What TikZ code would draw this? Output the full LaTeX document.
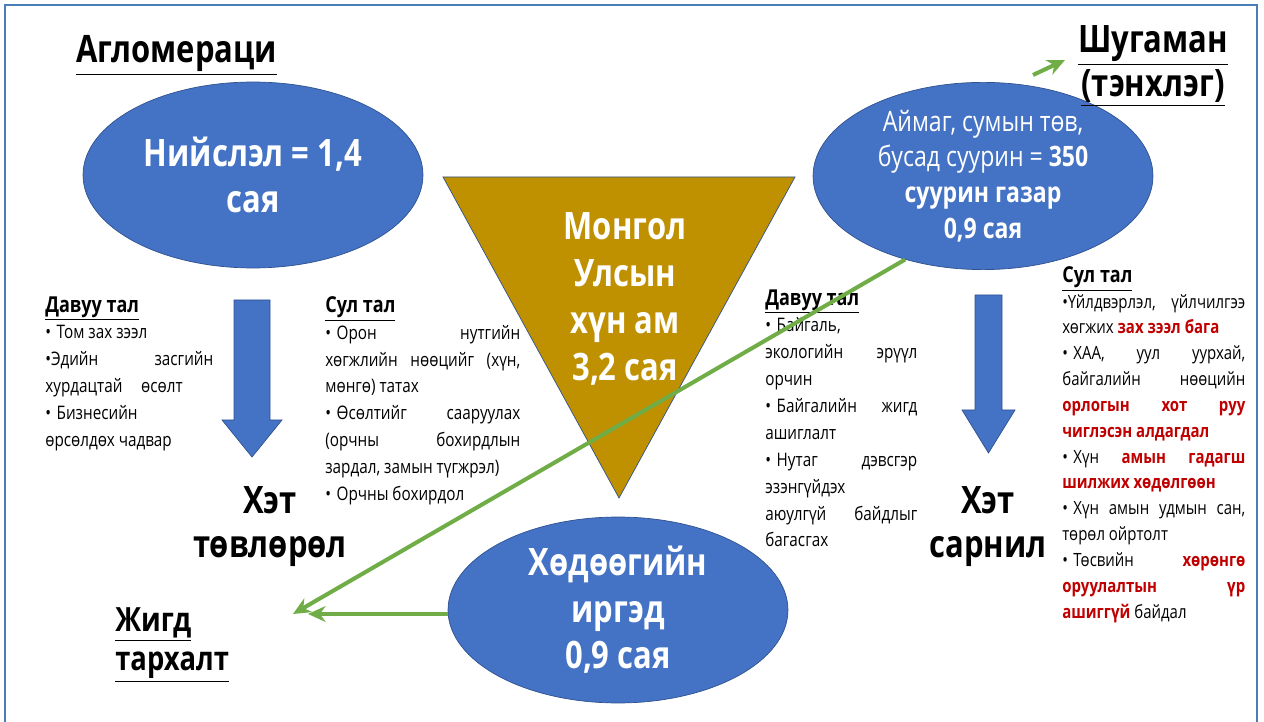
\documentclass[tikz,border=0pt]{standalone}
\usepackage{fontspec}
\setmainfont[FakeStretch=0.82]{Open Sans}
\usetikzlibrary{positioning,shapes.geometric,arrows.meta}

\definecolor{ellblue}{HTML}{4472C4}
\definecolor{edgeblue}{HTML}{2F528F}
\definecolor{frameblue}{HTML}{4A7EBB}
\definecolor{gold}{HTML}{BF9000}
\definecolor{leaf}{HTML}{70AD47}
\definecolor{warn}{HTML}{C00000}

\setlength{\parindent}{0pt}
\newcommand{\bult}{•\kern0.3em}
\newcommand{\redbf}[1]{\textcolor{warn}{\textbf{#1}}}
\newcommand{\hdr}[1]{{\fontsize{12.5}{15}\selectfont\textbf{\underline{#1}}}}

\tikzstyle{blob} = [ellipse, minimum width=6.8cm, minimum height=3.72cm, inner sep=0pt, fill=ellblue, draw=edgeblue, text=white, align=center, font=\fontsize{21.5}{26.5}\selectfont\bfseries]
\tikzstyle{title} = [inner sep=0pt, font=\fontsize{21.5}{25}\selectfont\bfseries]
\tikzstyle{notes} = [anchor=north west, inner sep=0pt, align=justify, font=\fontsize{10.6}{15.3}\selectfont]
\tikzstyle{blockarrow} = [fill=ellblue, draw=edgeblue, line width=0.4pt]
\tikzstyle{arrow} = [-{Stealth[length=10pt, width=9pt]}, leaf, line width=2.3pt]

\begin{document}
\begin{tikzpicture}[x=0.02cm, y=-0.02cm]
	\useasboundingbox (0,0) rectangle (1264,722);
	\draw [frameblue, line width=1.2pt] (5,722) -- (5,5) -- (1257,5) -- (1257,722);

	% population shapes
	\filldraw [fill=gold, draw=edgeblue, line width=0.4pt] (443,177) -- (795,177) -- (619,498) -- cycle;
	\node (country) [text=white, align=center, font=\fontsize{21.5}{26.6}\selectfont\bfseries] at (625,299) {Монгол\\Улсын\\хүн ам\\3,2 сая};
	\node (capital) [blob] at (253,175) {Нийслэл = 1,4\\сая};
	\node (aimag) [blob, font=\fontsize{16}{20.4}\selectfont] at (983,176) {Аймаг, сумын төв,\\бусад суурин = \textbf{350}\\\textbf{суурин газар}\\\textbf{0,9 сая}};
	\node (rural) [blob] at (618,610) {Хөдөөгийн\\иргэд\\0,9 сая};

	\node (aglom) [title, anchor=base west] at (76,63) {\underline{Агломераци}};
	\node (shug) [title, align=center] at (1153,66) {\underline{Шугаман}\\\underline{(тэнхлэг)}};
	\node (khet1) [title, align=center] at (270,527) {Хэт\\төвлөрөл};
	\node (khet2) [title, align=center] at (988,527) {Хэт\\сарнил};
	\node (jigd) [title, anchor=west, align=left, font=\fontsize{19}{22.5}\selectfont\bfseries] at (115,645) {\underline{Жигд}\\\underline{тархалт}};

	% down arrows
	\draw [blockarrow] (234,300) -- (270,300) -- (270,420) -- (282,420) -- (252,457) -- (222,420) -- (234,420) -- cycle;
	\draw [blockarrow] (975,295) -- (1002,295) -- (1002,410) -- (1015,410) -- (988.5,453) -- (962,410) -- (975,410) -- cycle;

	% pros and cons
	\node (adv1) [notes, text width=3.36cm] at (45,296) {\hdr{Давуу тал}\par
	\bult Том зах зээл\par
	•Эдийн засгийн\linebreak хурдацтай\quad өсөлт\par
	\bult Бизнесийн\newline өрсөлдөх чадвар};
	\node (dis1) [notes, text width=3.9cm] at (325,296) {\hdr{Сул тал}\par
	\bult Орон нутгийн\linebreak хөгжлийн нөөцийг (хүн,\linebreak мөнгө) татах\par
	\bult Өсөлтийг сааруулах\linebreak (орчны бохирдлын\linebreak зардал, замын түгжрэл)\par
	\bult Орчны бохирдол};
	\node (adv2) [notes, text width=3.04cm] at (765,289) {\hdr{Давуу тал}\par
	\bult Байгаль,\newline экологийн эрүүл\linebreak орчин\par
	\bult Байгалийн жигд\linebreak ашиглалт\par
	\bult Нутаг дэвсгэр\linebreak эзэнгүйдэх\newline аюулгүй байдлыг\linebreak багасгах};
	\node (dis2) [notes, text width=3.66cm, font=\fontsize{10.4}{14.7}\selectfont] at (1062,266) {\hdr{Сул тал}\par
	•Үйлдвэрлэл, үйлчилгээ\linebreak хөгжих \redbf{зах зээл бага}\par
	\bult ХАА, уул уурхай,\linebreak байгалийн нөөцийн\linebreak \redbf{орлогын хот руу\linebreak чиглэсэн алдагдал}\par
	\bult Хүн \redbf{амын гадагш\linebreak шилжих хөдөлгөөн}\par
	\bult Хүн амын удмын сан,\linebreak төрөл ойртолт\par
	\bult Төсвийн \redbf{хөрөнгө\linebreak оруулалтын үр\linebreak ашиггүй} байдал};

	% green connectors
	\coordinate (jtip) at (293,614);
	\coordinate (jtip2) at (308,614);
	\coordinate (s0) at (1033,75);
	\coordinate (s1) at (1065,60);
	\draw [arrow] (aimag.227) -- (jtip);
	\draw [arrow] (rural.west |- jtip2) -- (jtip2);
	\draw [arrow] (s0) -- (s1);
\end{tikzpicture}
\end{document}
